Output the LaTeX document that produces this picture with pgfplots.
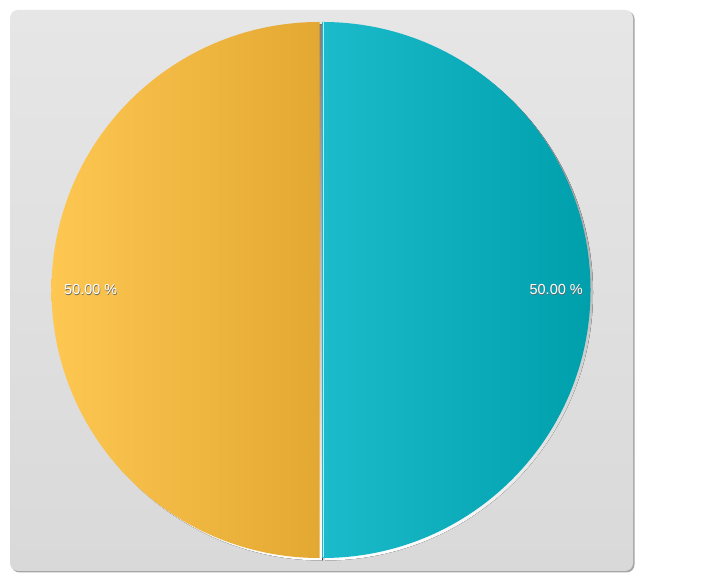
\documentclass[border=0pt]{standalone}
\usepackage{pgfplots}
\pgfplotsset{compat=1.18}
\usepackage{pgfplotstable}
\usepackage{fontspec}
\setmainfont{Liberation Sans}
\definecolor{panelTop}{HTML}{E6E6E6}
\definecolor{panelBot}{HTML}{D9D9D9}
\definecolor{yelL}{HTML}{FDC752}
\definecolor{yelR}{HTML}{E3A831}
\definecolor{tealL}{HTML}{1CBBCB}
\definecolor{tealR}{HTML}{009FAC}
\definecolor{shade}{HTML}{B0B0B0}

% slice values
\pgfplotstableread{
label value
A 50
B 50
}\piedata
\pgfplotstablegetelem{0}{value}\of\piedata \let\va\pgfplotsretval
\pgfplotstablegetelem{1}{value}\of\piedata \let\vb\pgfplotsretval
\pgfmathsetmacro\fracA{\va/(\va+\vb)}
\pgfmathsetmacro\angA{90+360*\fracA}
\pgfmathsetmacro\pctA{100*\fracA}
\pgfmathsetmacro\pctB{100-\pctA}
\newcommand\pct[1]{\pgfmathprintnumber[fixed,fixed zerofill,precision=2,assume math mode=true]{#1}~\%}

\begin{document}
\begin{tikzpicture}
\begin{axis}[
    x=1bp, y=1bp,
    xmin=0, xmax=720, ymin=0, ymax=580,
    scale only axis,
    hide axis,
    clip=false]
  \fill[white] (0,0) rectangle (720,580);
  % panel with shadow
  \fill[gray!70, rounded corners=8bp] (11.5,7.5) rectangle (634.5,569);
  \shade[top color=panelTop, bottom color=panelBot, rounded corners=8bp]
    (10,9) rectangle (633,570);
  % slice shadows
  \fill[shade] (322.5,287.5) -- ++(90:268bp) arc[start angle=90, end angle=\angA, radius=268bp] -- cycle;
  \fill[shade] (325,287.5) -- ++(\angA:268bp) arc[start angle=\angA, end angle=450, radius=268bp] -- cycle;
  % slices
  \shade[left color=yelL, right color=yelR]
    (319.5,290) -- ++(90:268bp) arc[start angle=90, end angle=\angA, radius=268bp] -- cycle;
  \shade[left color=tealL, right color=tealR]
    (322.5,290) -- ++(\angA:268bp) arc[start angle=\angA, end angle=450, radius=268bp] -- cycle;
  \draw[white!75!tealL, line width=0.8bp] (322.9,22.5) -- (322.9,557.5);
  % labels
  \tikzset{lbl/.style={font=\fontsize{14.5bp}{16bp}\selectfont, inner sep=0pt}}
  \node[lbl, anchor=west, text=black!60] at (64.5,289.5) {\pct{\pctA}};
  \node[lbl, anchor=west, text=white] at (64,290) {\pct{\pctA}};
  \node[lbl, anchor=east, text=black!60] at (583.5,289.5) {\pct{\pctB}};
  \node[lbl, anchor=east, text=white] at (583,290) {\pct{\pctB}};
\end{axis}
\end{tikzpicture}
\end{document}
